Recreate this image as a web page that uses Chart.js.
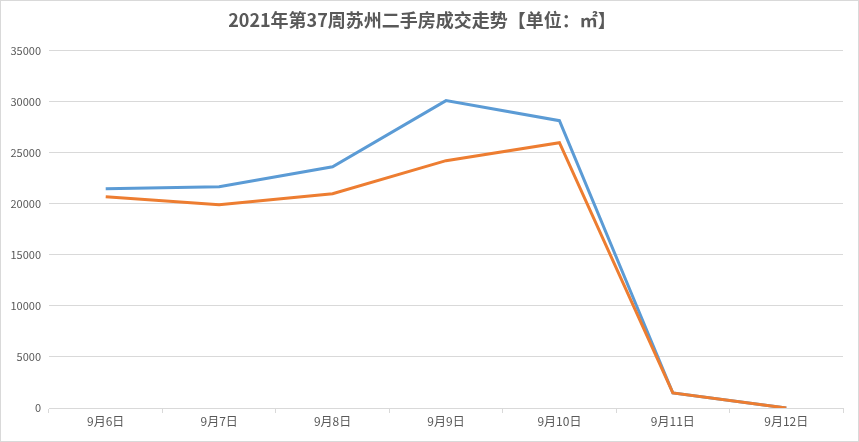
<!DOCTYPE html>
<html lang="zh">
  <head>
    <meta charset="UTF-8" />
    <title>苏州二手房成交走势</title>
    <script src="https://cdn.jsdelivr.net/npm/chart.js"></script>
    <style>
      html, body { margin: 0; padding: 0; background: #fff; }
      .chart-box {
        width: 859px;
        height: 442px;
        box-sizing: border-box;
        border: 1px solid #d9d9d9;
      }
    </style>
  </head>
  <body>
    <div class="chart-box">
      <canvas id="tradeChart" width="857" height="440"></canvas>
    </div>

    <script>
      // data
      const days = ["9月6日", "9月7日", "9月8日", "9月9日", "9月10日", "9月11日", "9月12日"];
      const seriesBlue = [21470, 21670, 23630, 30100, 28140, 1470, 0];
      const seriesOrange = [20690, 19900, 20980, 24220, 25980, 1470, 0];
      const yTicks = [0, 5000, 10000, 15000, 20000, 25000, 30000, 35000];

      const fontFamily = "'Noto Sans CJK SC', 'Noto Sans', sans-serif";

      new Chart(document.getElementById("tradeChart").getContext("2d"), {
        type: "line",
        data: {
          labels: days,
          datasets: [
            // orange first so it is painted on top of the blue line
            {
              label: "系列2",
              data: seriesOrange,
              borderColor: "#ED7D31",
              borderWidth: 3,
              pointRadius: 0,
              tension: 0,
            },
            {
              label: "系列1",
              data: seriesBlue,
              borderColor: "#5B9BD5",
              borderWidth: 3,
              pointRadius: 0,
              tension: 0,
            },
          ],
        },
        options: {
          responsive: false,
          animation: false,
          layout: { padding: { left: 0, right: 15, top: 0, bottom: 0 } },
          plugins: {
            legend: { display: false },
            tooltip: { enabled: false },
            title: {
              display: true,
              text: "2021年第37周苏州二手房成交走势【单位：㎡】",
              color: "#595959",
              font: { family: fontFamily, size: 18, weight: "bold" },
              padding: { top: 8, bottom: 20 },
            },
          },
          scales: {
            x: {
              offset: true,
              grid: {
                offset: true,
                drawOnChartArea: false,
                drawTicks: true,
                tickLength: 5,
                color: "#d9d9d9",
              },
              border: { color: "#d9d9d9" },
              ticks: { color: "#595959", font: { family: fontFamily, size: 12 }, padding: 1, maxRotation: 0 },
              afterFit: (scale) => { scale.height = 33; },
            },
            y: {
              min: 0,
              max: 35000,
              afterBuildTicks: (scale) => { scale.ticks = yTicks.map((v) => ({ value: v })); },
              grid: { color: "#d9d9d9", drawTicks: false },
              border: { display: false },
              ticks: {
                color: "#595959",
                font: { family: fontFamily, size: 11 },
                padding: 8,
                callback: (v) => String(v),
              },
              afterFit: (scale) => { scale.width = 48; },
            },
          },
        },
      });
    </script>
  </body>
</html>
